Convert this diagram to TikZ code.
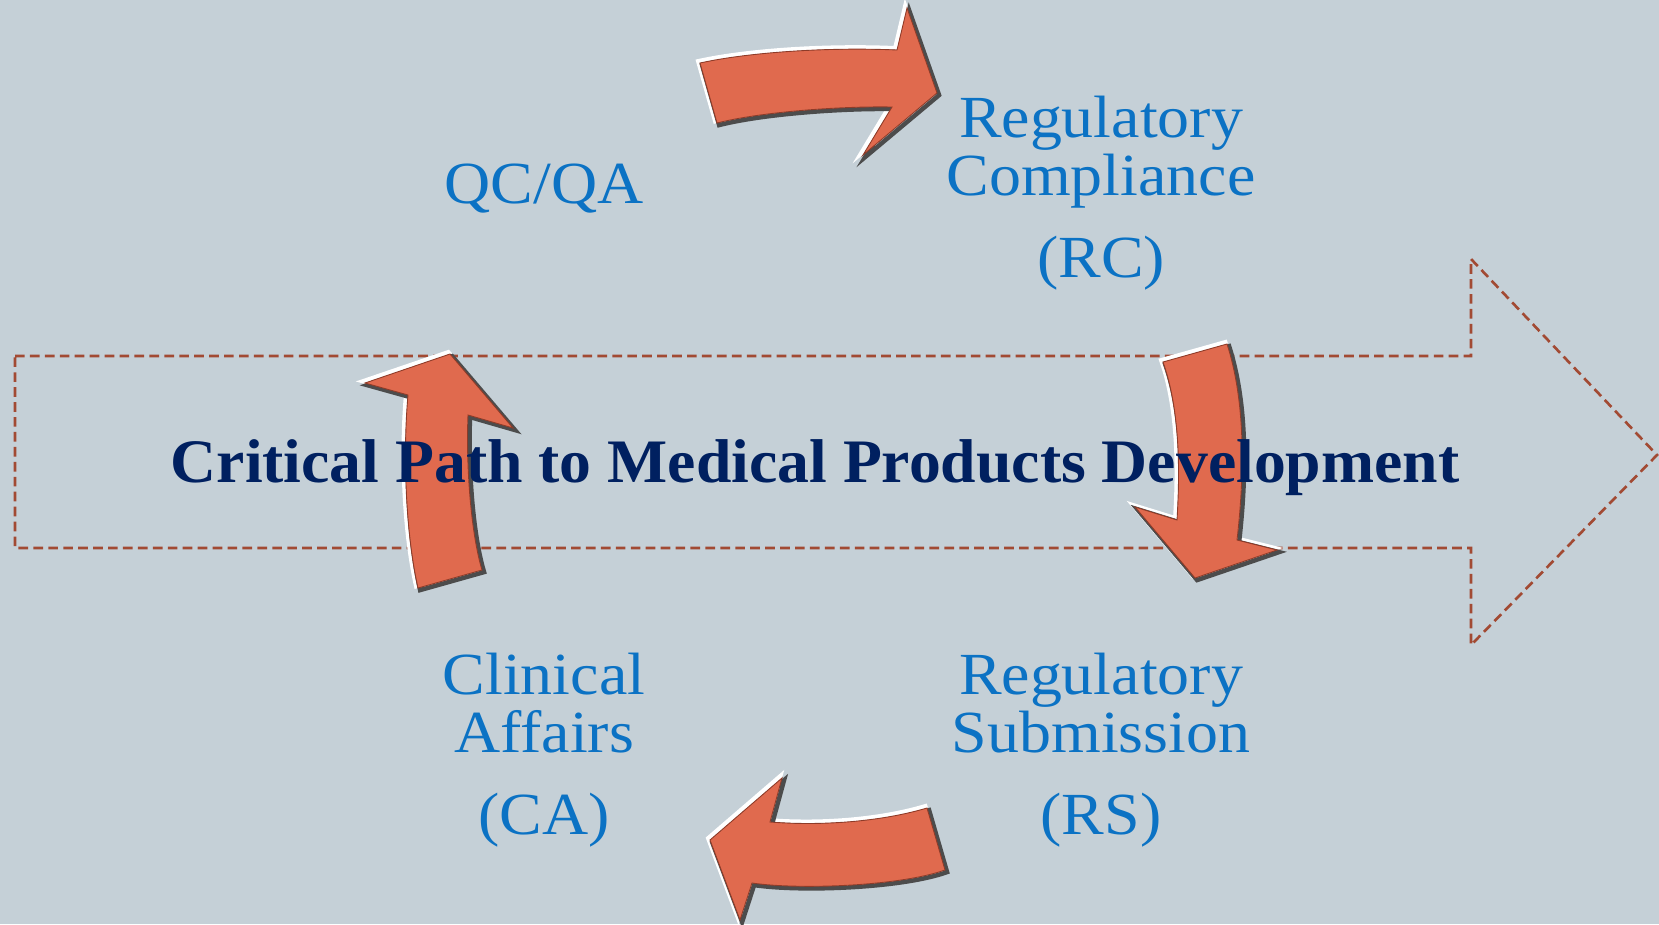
\documentclass[tikz,border=0pt]{standalone}
\usepackage{fontspec}
\setmainfont{Liberation Serif}
\newfontfamily\widefont[FakeStretch=1.07]{Liberation Serif}
\newfontfamily\titlefont[FakeStretch=1.03]{Liberation Serif}
\definecolor{bgpanel}{HTML}{C5D0D7}
\definecolor{dashbrown}{HTML}{A24A33}
\definecolor{titlenavy}{HTML}{002060}
\definecolor{labelblue}{HTML}{0B72C4}
\definecolor{arrowfill}{HTML}{E06A4E}
\definecolor{arrowdark}{HTML}{8E3B28}

\begin{document}
\begin{tikzpicture}[
      x=0.02cm, y=-0.02cm,
      every node/.style={inner sep=0pt},
      label/.style={text=labelblue, align=center, font=\widefont\fontsize{34}{33}\selectfont},
      title/.style={text=titlenavy, font=\titlefont\fontsize{35.2}{40}\selectfont\bfseries, anchor=base},
      flow/.style={draw=dashbrown, line width=1.5pt, dash pattern=on 5.5pt off 3pt, line join=miter},
      cyclearrow/.style={fill=arrowfill, draw=arrowdark, line width=0.5pt, line join=miter,
        preaction={draw=white, line width=2.5pt, transform canvas={shift={(-1pt,1pt)}}},
        preaction={draw=gray!60!black, line width=2.5pt, transform canvas={shift={(1.2pt,-1.2pt)}}}},
    ]

    \fill[bgpanel] (0,0) rectangle (1659,924);
    \useasboundingbox (0,0) rectangle (1659,924);

    \draw[flow] (15,356) -- (1471,356) -- (1471,259) -- (1657,455) -- (1471,645) -- (1471,548) -- (15,548) -- cycle;

    \draw[cyclearrow] (700,63) .. controls (750,52) and (830,47) .. (897,50) -- (907,8) -- (937,93) -- (863,155) -- (892,107) .. controls (840,106) and (760,112) .. (717,123) -- cycle;
    \draw[cyclearrow] (1163,362) -- (1227,344) .. controls (1245,400) and (1245,470) .. (1237,540) -- (1277,550) -- (1195,578) -- (1135,507) -- (1177,520) .. controls (1180,470) and (1180,410) .. (1163,362) -- cycle;
    \draw[cyclearrow] (927,808) -- (945,870) .. controls (900,886) and (800,890) .. (752,883) -- (740,920) -- (710,840) -- (782,778) -- (770,822) .. controls (820,826) and (880,822) .. (927,808) -- cycle;
    \draw[cyclearrow] (418,588) -- (482,570) .. controls (470,530) and (466,460) .. (468,415) -- (513,428) -- (450,354) -- (365,383) -- (408,395) .. controls (403,450) and (405,530) .. (418,588) -- cycle;

    \node[title] (path) at (815,482) {Critical Path to Medical Products Development};

    \node[label, anchor=base] (qcqa) at (544,203) {QC/QA};
    \node[label] (rc) at (1101,193) {Regulatory\\Compliance\\[14pt](RC)};
    \node[label] (ca) at (544,750) {Clinical\\Affairs\\[14pt](CA)};
    \node[label] (rs) at (1101,750) {Regulatory\\Submission\\[14pt](RS)};

  \end{tikzpicture}
\end{document}
